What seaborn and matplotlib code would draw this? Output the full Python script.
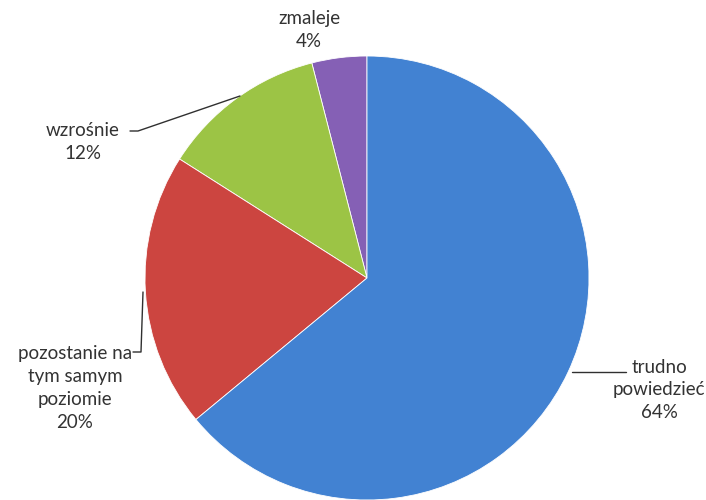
"""Pie chart: expected change (Polish survey answers)."""

import matplotlib

matplotlib.use("Agg")

import matplotlib.pyplot as plt
import seaborn as sns

# data, counter-clockwise from 12 o'clock
labels = ["zmaleje", "wzrośnie", "pozostanie na\ntym samym\npoziomie", "trudno\npowiedzieć"]
shares = [4, 12, 20, 64]
colors = ["#8560B5", "#9CC445", "#CC4540", "#4282D2"]

sns.set_theme(style="white")
plt.rcParams["font.family"] = ["Lato", "DejaVu Sans"]

fig = plt.figure(figsize=(7.06, 5.0), dpi=100)
ax = fig.add_axes([0, 0, 1, 1])

cx, cy, r = 367, -278, 222
wedges, _ = ax.pie(
    shares,
    colors=colors,
    startangle=90,
    counterclock=True,
    center=(cx, cy),
    radius=r,
    frame=True,
    wedgeprops={"edgecolor": "white", "linewidth": 0.6},
)
ax.set_xlim(0, 706)
ax.set_ylim(-500, 0)
ax.set_aspect("equal")
ax.axis("off")

# label positions (centre of text block) and leader lines
label_pos = [(309, -30), (83, -142), (75, -388), (659, -390)]
leaders = [
    None,
    [(130, -131), (138, -131), (240, -96)],
    [(133, -352), (141, -352), (143, -292)],
    [(572, -372), (626, -372)],
]
text_color = "#333333"
for lab, val, (tx, ty), line in zip(labels, shares, label_pos, leaders):
    ax.text(tx, ty, f"{lab}\n{val}%", ha="center", va="center", fontsize=13.5,
            color=text_color, linespacing=1.42, multialignment="center")
    if line:
        xs, ys = zip(*line)
        ax.plot(xs, ys, color="#303030", linewidth=1.0)

fig.savefig("out.png", dpi=100)
